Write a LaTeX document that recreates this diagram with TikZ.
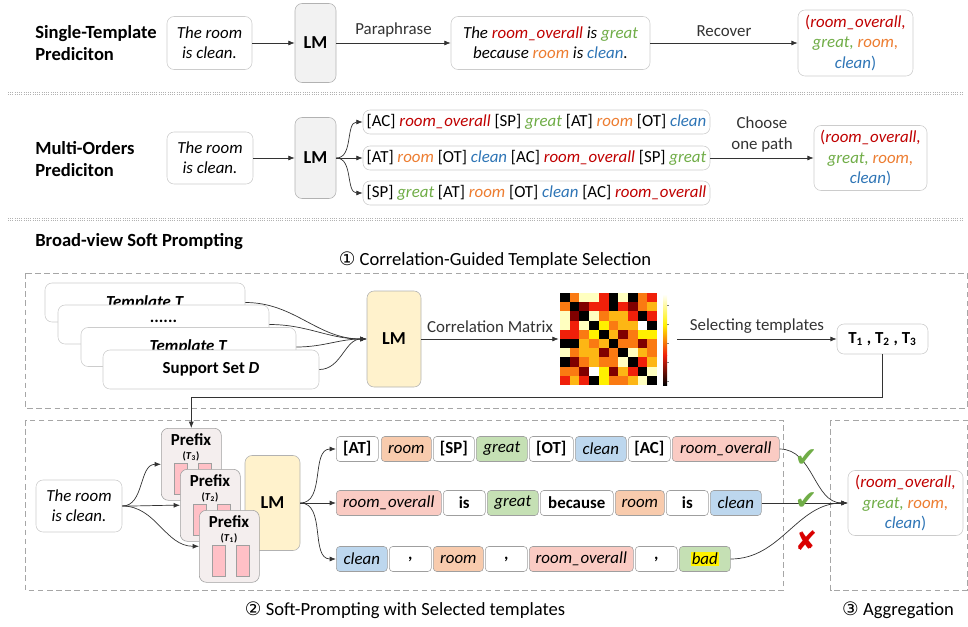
\documentclass[tikz,border=0pt,12pt]{standalone}
\usepackage{fontspec}
\setmainfont{Carlito}
\newfontfamily\circfont{DejaVu Sans}
\usetikzlibrary{arrows.meta}

\definecolor{catred}{HTML}{C00000}
\definecolor{opgreen}{HTML}{70AD47}
\definecolor{atorange}{HTML}{ED7D31}
\definecolor{otblue}{HTML}{2E75B6}
\definecolor{pinkfill}{HTML}{FACBC3}
\definecolor{orfill}{HTML}{F8CBAD}
\definecolor{grfill}{HTML}{C5E0B4}
\definecolor{blfill}{HTML}{BDD7EE}
\definecolor{lmyellow}{HTML}{FFF2CC}
\definecolor{lmgray}{HTML}{F2F2F2}
\definecolor{prefill}{HTML}{F4EEEE}
\definecolor{barpink}{HTML}{FFC0C6}
\definecolor{hm0}{HTML}{000000}
\definecolor{hm1}{HTML}{800000}
\definecolor{hm2}{HTML}{F0200A}
\definecolor{hm3}{HTML}{FA7A12}
\definecolor{hm4}{HTML}{FDB614}
\definecolor{hm5}{HTML}{FFF000}
\definecolor{hm6}{HTML}{FFFFC0}
\definecolor{hm7}{HTML}{FFFFFF}

\newcommand{\aspc}[1]{\textcolor{catred}{\textit{#1}}}
\newcommand{\opin}[1]{\textcolor{opgreen}{\textit{#1}}}
\newcommand{\aspt}[1]{\textcolor{atorange}{\textit{#1}}}
\newcommand{\opnt}[1]{\textcolor{otblue}{\textit{#1}}}
\newcommand{\quadtxt}{\textcolor{catred}{(\textit{room\_overall,}}\\
  \opin{great,} \aspt{room,}\\ \textcolor{otblue}{\textit{clean})}}

\tikzset{
  sz/.style 2 args={minimum width=#1*0.025cm, minimum height=#2*0.025cm},
  rbox/.style={draw=gray!40, fill=white, rounded corners=5pt, align=center, inner sep=1pt},
  lmbox/.style={draw=gray!60, rounded corners=5pt, font=\fontsize{13}{15}\selectfont\bfseries},
  tok/.style={draw=gray!75, rounded corners=2.5pt, inner sep=1pt, anchor=west},
  prefixbox/.style={draw=gray!75, fill=prefill, rounded corners=5pt, anchor=north west},
  arr/.style={-{Latex[length=4.5pt,width=3.5pt]}, line width=0.5pt, black!80},
  sectbox/.style={draw=gray!70, dash pattern=on 4pt off 2.5pt, line width=0.6pt},
  sepline/.style={gray!60, line width=0.6pt, dash pattern=on 0.7pt off 0.9pt},
  heading/.style={anchor=west, align=left, inner sep=0pt, font=\fontsize{13.2}{15.5}\selectfont\bfseries},
  steplabel/.style={font=\fontsize{13.2}{15.5}\selectfont},
  verdict/.style={inner sep=0pt, font=\circfont\fontsize{19}{19}\selectfont},
}

\begin{document}
\begin{tikzpicture}[x=0.025cm, y=-0.025cm]
\useasboundingbox (0,0) rectangle (968,626);

% Single-template prediction
\node[heading] (h1) at (35,43) {Single-Template\\Prediciton};
\node[rbox, sz={85}{53}, font=\itshape] (in1) at (209.5,43) {The room\\is clean.};
\node[lmbox, fill=lmgray, sz={41}{79}] (lm1) at (315.5,43) {LM};
\node[rbox, sz={199}{53}, font=\itshape] (para1) at (550.5,43) {The \aspc{room\_overall} is \opin{great}\\because \aspt{room} is \opnt{clean}.};
\node[rbox, sz={115}{66}] (out1) at (855.5,43) {\quadtxt};
\draw[arr] (in1) -- (lm1);
\draw[arr] (lm1) -- node[above] {Paraphrase} (para1);
\draw[arr] (para1) -- node[above] {Recover} (out1);

% Separator
\draw[sepline] (8,92) -- (962,92);
\draw[sepline] (8,94.5) -- (962,94.5);

% Multi-order prediction
\node[heading] (h2) at (35,159) {Multi-Orders\\Prediciton};
\node[rbox, sz={86}{52}, font=\itshape] (in2) at (210,158) {The room\\is clean.};
\node[lmbox, fill=lmgray, sz={41}{81}] (lm2) at (315.5,158) {LM};
\node[rbox, sz={347}{24}] (pathA) at (536.5,122) {[AC] \aspc{room\_overall} [SP] \opin{great} [AT] \aspt{room} [OT] \opnt{clean}};
\node[rbox, sz={347}{24}] (pathB) at (536.5,158) {[AT] \aspt{room} [OT] \opnt{clean} [AC] \aspc{room\_overall} [SP] \opin{great}};
\node[rbox, sz={347}{24}] (pathC) at (536.5,193) {[SP] \opin{great} [AT] \aspt{room} [OT] \opnt{clean} [AC] \aspc{room\_overall}};
\node[rbox, sz={113}{65}] (out2) at (870.5,158) {\quadtxt};
\draw[arr] (in2) -- (lm2);
\draw[arr] (lm2.east) to[out=0,in=180] (pathA.west);
\draw[arr] (lm2.east) -- (pathB.west);
\draw[arr] (lm2.east) to[out=0,in=180] (pathC.west);
\draw[arr] (pathB) -- node[above, align=center] {Choose\\one path} (out2);

% Separator
\draw[sepline] (8,218) -- (962,218);
\draw[sepline] (8,220.5) -- (962,220.5);

% Broad-view soft prompting
\node[heading] (h3) at (35,242) {Broad-view Soft Prompting};
\node[steplabel] (s1) at (495,260) {{\circfont ①} Correlation-Guided Template Selection};
\draw[sectbox] (25.5,273) rectangle (967,408.5);
\draw[sectbox] (25.5,420) rectangle (783,590.5);
\draw[sectbox] (830.5,420) rectangle (967,590);
\node[steplabel] (s2) at (405,610) {{\circfont ②} Soft-Prompting with Selected templates};
\node[steplabel] (s3) at (898,610) {{\circfont ③} Aggregation};

% Template stack and support set
\node[lmbox, fill=lmyellow, sz={54}{96}] (lm3) at (394,339) {LM};
\foreach \nm/\cx/\cy/\w/\txt in {tplA/145/302.5/200/{\textit{Template T}}, tplB/163.5/324.5/211/{\raisebox{4pt}{......}}, tplC/188.5/347/215/{\textit{Template T}}, tplD/211/369.5/216/{Support Set \textit{D}}}
  \node[rbox, sz={\w}{39}, font=\bfseries] (\nm) at (\cx,\cy) {\txt};
\foreach \nm in {tplA,tplB,tplC,tplD}
  \draw[arr] (\nm.east) to[out=0,in=180] (lm3.west);

% Correlation matrix
\node[sz={118}{92}] (hmap) at (618,339) {};
\foreach \row [count=\r] in {{0,3,6,6,2,0,6,0,3,2},{3,0,1,2,2,0,2,1,3,4},{6,1,0,6,3,4,4,2,0,2},{6,2,6,0,5,3,4,4,7,0},{2,2,3,5,0,4,1,3,5,5},{0,0,4,3,4,0,3,3,1,3},{6,3,4,4,1,3,0,6,4,3},{0,1,3,4,3,3,6,0,2,4},{3,3,1,7,5,1,4,2,0,6},{2,4,2,0,5,3,3,4,6,0}}
  \foreach \v [count=\c] in \row
    \fill[hm\v] ({550.3+9.7*\c},{283.8+9.2*\r}) rectangle ++(9.8,9.3);
\shade[bottom color=black, top color=hm2] (663,385) rectangle (667,355);
\shade[bottom color=hm2, top color=hm5] (663,355) rectangle (667,325);
\shade[bottom color=hm5, top color=white] (663,325) rectangle (667,294);
\foreach \t in {305,324,343,362,381}
  \draw[gray, line width=0.3pt] (667,\t) -- (669,\t);

\node[rbox, sz={91}{30}, font=\bfseries] (tsel) at (882.5,339) {T\textsubscript{1} , T\textsubscript{2} , T\textsubscript{3}};
\draw[arr] (lm3) -- node[above] {Correlation Matrix} (hmap);
\draw[arr] (hmap) -- node[above] {Selecting templates} (tsel);

% Soft prompting with the selected templates
\node[rbox, sz={86}{52}, font=\itshape] (in3) at (79,506) {The room\\is clean.};
\node[lmbox, fill=lmyellow, sz={55}{95}] (lm4) at (272.5,503) {LM};
\foreach \k/\xa/\ya in {3/161/428, 2/180/469, 1/199/510} {
  \node[prefixbox, sz={60}{72}] (p\k) at (\xa,\ya) {};
  \draw[gray!75, fill=barpink] ({\xa+13},{\ya+35}) rectangle ({\xa+26},{\ya+66});
  \draw[gray!75, fill=barpink] ({\xa+37},{\ya+35}) rectangle ({\xa+50},{\ya+66});
  \node[font=\bfseries] (pt\k) at ({\xa+30},{\ya+12}) {Prefix};
  \node[font=\fontsize{7.5}{8}\selectfont\bfseries] (ps\k) at ({\xa+30},{\ya+28}) {(\textit{T}\textsubscript{\k})};
}
\draw[arr] (tsel.south) -- ++(0,43) -| (p3.north);
\draw[arr] (in3.east) to[out=0,in=180] (p3.west);
\draw[arr] (in3.east) to[out=0,in=180] (p2.west);
\draw[arr] (in3.east) to[out=0,in=180] (p1.west);

% Token rows
\foreach \xa/\w/\fc/\txt [count=\i] in {336/42/white/{\bfseries [AT]}, 381/50/orfill/{\itshape room}, 433/41/white/{\bfseries [SP]}, 476/51/grfill/{\itshape great}, 529/44/white/{\bfseries [OT]}, 575/51/blfill/{\itshape clean}, 628/42/white/{\bfseries [AC]}, 672/107/pinkfill/{\itshape room\_overall}}
  \node[tok, fill=\fc, sz={\w}{25}] (ra\i) at (\xa,449) {\txt};
\foreach \xa/\w/\fc/\txt [count=\i] in {336/105/pinkfill/{\itshape room\_overall}, 443/42/white/{\bfseries is}, 487/51/grfill/{\itshape great}, 540/73/white/{\bfseries because}, 615/49/orfill/{\itshape room}, 666/42/white/{\bfseries is}, 710/51/blfill/{\itshape clean}}
  \node[tok, fill=\fc, sz={\w}{25}] (rb\i) at (\xa,503) {\txt};
\foreach \xa/\w/\fc/\txt [count=\i] in {336/51/blfill/{\itshape clean}, 389/42/white/{\bfseries ,}, 433/50/orfill/{\itshape room}, 485/42/white/{\bfseries ,}, 529/104/pinkfill/{\itshape room\_overall}, 635/42/white/{\bfseries ,}, 679/51/grfill/{\setlength{\fboxsep}{0.5pt}\colorbox{yellow}{\itshape bad}}}
  \node[tok, fill=\fc, sz={\w}{25}] (rc\i) at (\xa,559) {\txt};
\draw[arr] (lm4.east) to[out=0,in=180] (ra1.west);
\draw[arr] (lm4.east) -- (rb1.west);
\draw[arr] (lm4.east) to[out=0,in=180] (rc1.west);

% Aggregation
\node[rbox, sz={115}{65}] (out3) at (905.5,503) {\quadtxt};
\draw[arr] (ra8.east) to[out=0,in=180] (out3.west);
\draw[arr] (rb7.east) -- (out3.west);
\draw[arr] (rc7.east) to[out=0,in=180] (out3.west);
\node[verdict, text=opgreen] (ok1) at (806,458) {✔};
\node[verdict, text=opgreen] (ok2) at (806,501) {✔};
\node[verdict, text=red!85!black] (no1) at (806,541) {✘};
\end{tikzpicture}
\end{document}
